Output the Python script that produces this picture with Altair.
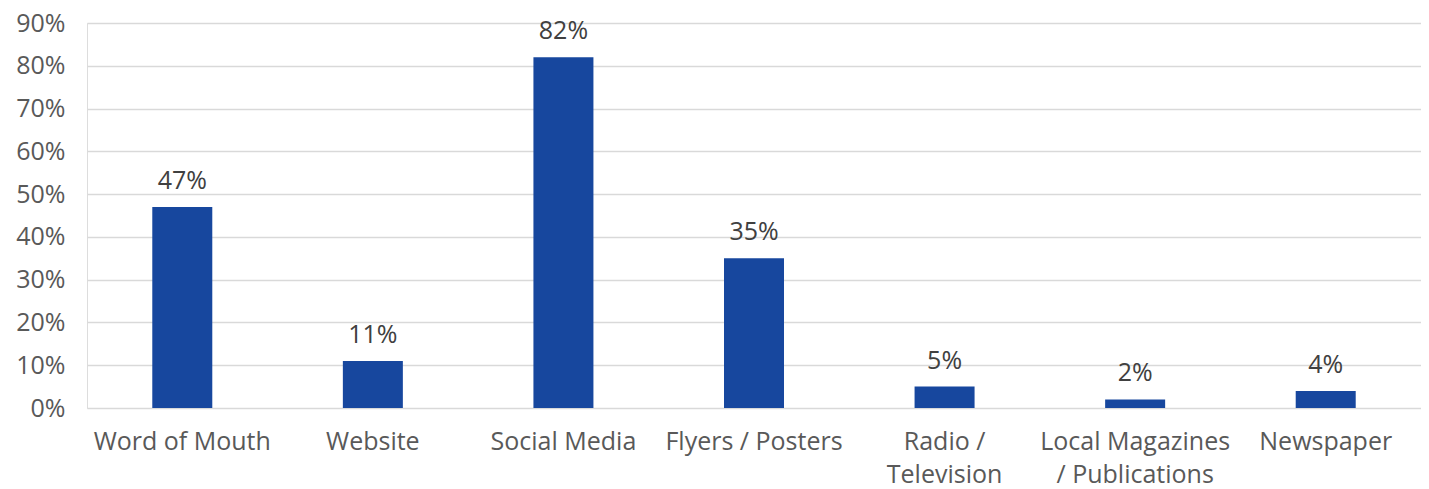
import altair as alt
import pandas as pd

categories = ["Word of Mouth", "Website", "Social Media", "Flyers / Posters",
              "Radio /|Television", "Local Magazines|/ Publications", "Newspaper"]
values = [0.47, 0.11, 0.82, 0.35, 0.05, 0.02, 0.04]
y_ticks = [0, 0.1, 0.2, 0.3, 0.4, 0.5, 0.6, 0.7, 0.8, 0.9]

df = pd.DataFrame({"cat": categories, "val": values})

FONT = "Open Sans"
TXT = "#595959"
BAR = "#17479E"
FS = 25

x = alt.X("cat:N", sort=categories, title=None,
          scale=alt.Scale(paddingInner=0, paddingOuter=0),
          axis=alt.Axis(labelAngle=0, labelFont=FONT, labelFontSize=FS,
                        labelColor=TXT, labelPadding=21, labelBaseline="top",
                        labelExpr="split(datum.label, '|')", labelLineHeight=33,
                        domain=False, ticks=False, labelLimit=400))
y = alt.Y("val:Q", title=None,
          scale=alt.Scale(domain=[0, 0.9], nice=False),
          axis=alt.Axis(values=y_ticks, format=".0%", labelFont=FONT,
                        labelFontSize=FS, labelColor=TXT, labelPadding=22,
                        domain=False, ticks=False, gridColor="#D9D9D9",
                        gridWidth=1.5))

bars = alt.Chart(df).mark_bar(size=60, color=BAR).encode(x=x, y=y)
labels = alt.Chart(df).mark_text(dy=-13, baseline="bottom", font=FONT,
                                 fontSize=FS, color="#404040").encode(
    x=alt.X("cat:N", sort=categories),
    y="val:Q",
    text=alt.Text("val:Q", format=".0%"))

chart = (bars + labels).properties(
    width=1334, height=385,
    autosize=alt.AutoSizeParams(type="none"),
    padding={"left": 79, "top": 15, "right": 0, "bottom": 81},
).configure_view(stroke=None).configure(background="white")

chart.save("out.html", embed_options={"renderer": "svg", "actions": False})
